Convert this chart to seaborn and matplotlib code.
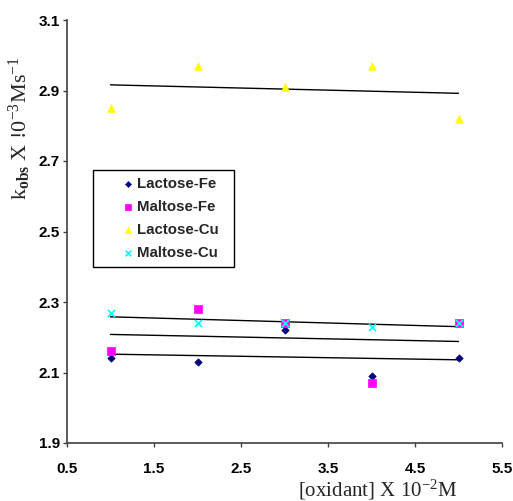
import matplotlib
matplotlib.use("Agg")
import matplotlib.pyplot as plt
import seaborn as sns
import pandas as pd

oxidant = [1, 2, 3, 4, 5]
lactose_fe = [2.14, 2.13, 2.22, 2.09, 2.14]
maltose_fe = [2.16, 2.28, 2.24, 2.07, 2.24]
lactose_cu = [2.85, 2.97, 2.91, 2.97, 2.82]
maltose_cu = [2.27, 2.24, 2.24, 2.23, 2.24]
series_names = ["Lactose-Fe", "Maltose-Fe", "Lactose-Cu", "Maltose-Cu"]
x_ticks = [0.5, 1.5, 2.5, 3.5, 4.5, 5.5]
y_ticks = [1.9, 2.1, 2.3, 2.5, 2.7, 2.9, 3.1]

sns.set_theme(style="white")
plt.rcParams["font.family"] = ["Liberation Sans", "DejaVu Sans"]
plt.rcParams["mathtext.fontset"] = "custom"
plt.rcParams["mathtext.rm"] = "Liberation Serif"
plt.rcParams["mathtext.it"] = "Liberation Serif:italic"
plt.rcParams["mathtext.bf"] = "Liberation Serif:bold"

frames = []
for name, vals in zip(series_names, [lactose_fe, maltose_fe, lactose_cu, maltose_cu]):
    frames.append(pd.DataFrame({"x": oxidant, "y": vals, "series": name}))
df = pd.concat(frames, ignore_index=True)

styles = {
    "Lactose-Fe": dict(color="#000080", marker="D", s=14),
    "Maltose-Fe": dict(color="#FF00FF", marker="s", s=26),
    "Lactose-Cu": dict(color="#FFFF00", marker="^", s=30),
    "Maltose-Cu": dict(color="#00FFFF", marker="x", s=26),
}

fig = plt.figure(figsize=(5.13, 5.01), dpi=100)
ax = fig.add_axes([67/513, 1 - 443/501, (502-67)/513, (443-20)/501])

for name in series_names:
    sub = df[df.series == name]
    st = styles[name]
    sns.scatterplot(data=sub, x="x", y="y", ax=ax, color=st["color"], marker=st["marker"],
                    s=st["s"], edgecolor=st["color"] if st["marker"] != "x" else None,
                    linewidth=1.2 if st["marker"] == "x" else 0.5, label=name + "  ", zorder=3)
    sns.regplot(data=sub, x="x", y="y", ax=ax, scatter=False, ci=None, truncate=True,
                line_kws=dict(color="black", linewidth=1.0, zorder=2))

ax.set_xlim(0.5, 5.5)
ax.set_ylim(1.9, 3.1)
ax.set_xticks(x_ticks)
ax.set_yticks(y_ticks)
ax.set_xticklabels([f"{v:.1f}" for v in x_ticks], fontweight="bold", fontsize=11)
ax.set_yticklabels([f"{v:.1f}" for v in y_ticks], fontweight="bold", fontsize=11)
ax.tick_params(axis="both", direction="out", length=3, width=1, colors="#404040",
               labelcolor="black", bottom=True, left=True)
ax.tick_params(axis="x", pad=11)
ax.tick_params(axis="y", pad=2)
for s in ["top", "right"]:
    ax.spines[s].set_visible(False)
for s in ["left", "bottom"]:
    ax.spines[s].set_color("#404040")
    ax.spines[s].set_linewidth(1.2)

ax.set_xlabel(r"[oxidant] X 10$^{-2}$M", fontsize=15, family="Liberation Serif")
ax.xaxis.set_label_coords(0.715, -0.083)
ax.set_ylabel(r"k$_{\mathbf{obs}}$ X !0$^{-3}$Ms$^{-1}$", fontsize=16, family="Liberation Serif")
ax.yaxis.set_label_coords(-0.078, 0.745)

leg = ax.legend(loc="upper left", bbox_to_anchor=((93-67)/435, (443-170)/423),
                frameon=True, fancybox=False, edgecolor="black", framealpha=1,
                prop=dict(weight="bold", size=10.8), handletextpad=-1.3,
                handlelength=3.8, borderpad=0.45, labelspacing=0.6, markerscale=0.8,
                borderaxespad=0)
leg.get_frame().set_linewidth(1.0)

fig.savefig("out.png", dpi=100)
